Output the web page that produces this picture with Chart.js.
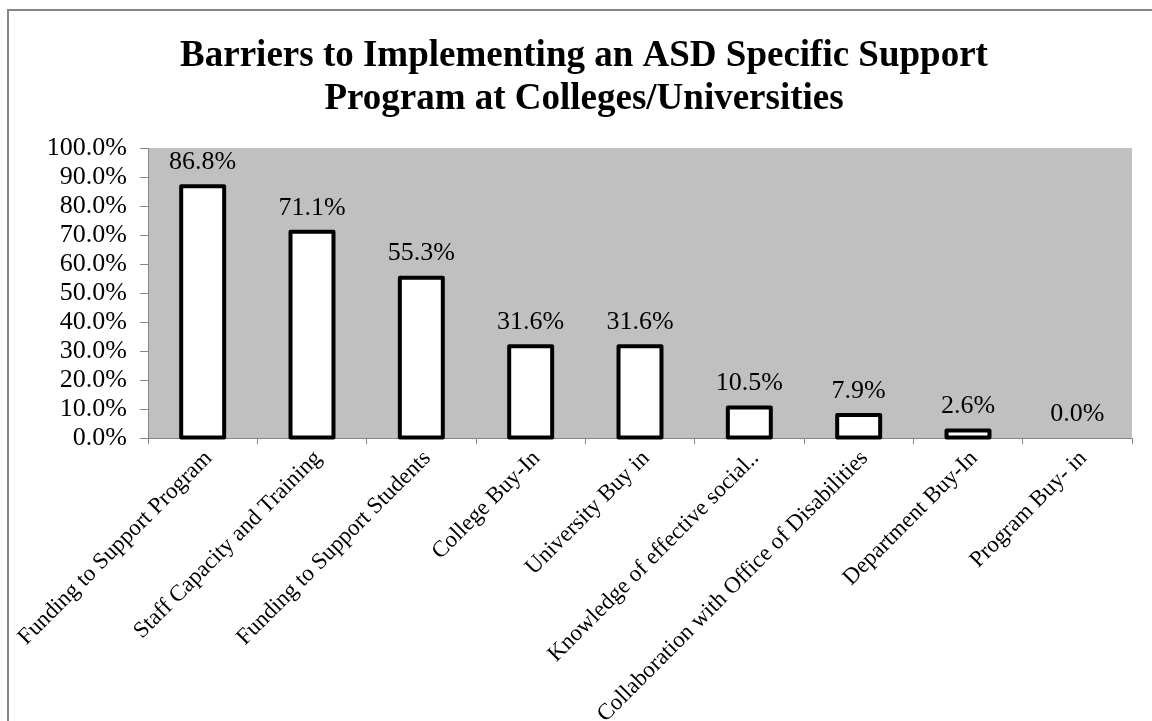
<!DOCTYPE html>
<html lang="en">
<head>
    <meta charset="UTF-8">
    <title>Barriers to Implementing an ASD Specific Support Program</title>
    <script src="https://cdn.jsdelivr.net/npm/chart.js@4.4.1/dist/chart.umd.min.js"></script>
    <style>
        html, body { margin: 0; padding: 0; background: #fff; overflow: hidden; }
        .wrap { position: relative; width: 1152px; height: 721px; }
        .frame {
            position: absolute; left: 7px; top: 9px; width: 1200px; height: 800px;
            border-left: 2px solid #868686; border-top: 2px solid #868686;
            pointer-events: none;
        }
    </style>
</head>
<body>
<div class="wrap">
    <canvas id="barChart" width="1152" height="721"></canvas>
    <div class="frame"></div>
</div>

<script>
    // chart data
    const titleLines = ['Barriers to Implementing an ASD Specific Support', 'Program at Colleges/Universities'];
    const categories = [
        'Funding to Support Program',
        'Staff Capacity and Training',
        'Funding to Support Students',
        'College Buy-In',
        'University Buy in',
        'Knowledge of effective social..',
        'Collaboration with Office of Disabilities',
        'Department Buy-In',
        'Program Buy- in'
    ];
    const percents = [86.8, 71.1, 55.3, 31.6, 31.6, 10.5, 7.9, 2.6, 0.0];
    const yMin = 0;
    const yMax = 100;
    const yStep = 10;

    const serif = '"Liberation Serif", "Times New Roman", serif';

    // grey plot area + custom title
    const plotBackground = {
        id: 'plotBackground',
        beforeDraw(chart) {
            const { ctx, chartArea: a } = chart;
            ctx.save();
            ctx.fillStyle = '#c0c0c0';
            ctx.fillRect(a.left, a.top, a.right - a.left, a.bottom - a.top);
            ctx.fillStyle = '#000';
            ctx.font = 'bold 37px ' + serif;
            ctx.textAlign = 'center';
            ctx.textBaseline = 'alphabetic';
            titleLines.forEach((t, i) => ctx.fillText(t, 584, 66 + i * 43));
            ctx.restore();
        }
    };

    // thick outline on bars (centred on the edge like Excel) + value labels
    const barOutline = {
        id: 'barOutline',
        afterDatasetsDraw(chart) {
            const { ctx } = chart;
            const meta = chart.getDatasetMeta(0);
            ctx.save();
            meta.data.forEach((bar, i) => {
                const p = bar.getProps(['x', 'y', 'base', 'width'], true);
                if (percents[i] > 0) {
                    ctx.lineWidth = 4;
                    ctx.lineJoin = 'round';
                    ctx.strokeStyle = '#000';
                    ctx.strokeRect(p.x - p.width / 2, p.y, p.width, p.base - p.y);
                }
                ctx.fillStyle = '#000';
                ctx.font = '26px ' + serif;
                ctx.textAlign = 'center';
                ctx.textBaseline = 'middle';
                ctx.fillText(percents[i].toFixed(1) + '%', p.x, p.y - 24);
            });
            ctx.restore();
        }
    };

    const ctx = document.getElementById('barChart').getContext('2d');
    const chart = new Chart(ctx, {
        type: 'bar',
        data: {
            labels: categories,
            datasets: [{
                data: percents,
                backgroundColor: '#ffffff',
                borderWidth: 0,
                categoryPercentage: 1.0,
                barPercentage: 0.393
            }]
        },
        options: {
            responsive: false,
            animation: false,
            devicePixelRatio: 1,
            layout: { padding: { top: 148, left: 0, right: 20, bottom: 0 } },
            plugins: {
                legend: { display: false },
                title: { display: false },
                tooltip: { enabled: false }
            },
            scales: {
                x: {
                    offset: true,
                    afterFit(scale) { scale.height = 283; },
                    grid: {
                        offset: true,
                        drawOnChartArea: false,
                        tickLength: 6,
                        color: '#868686'
                    },
                    border: { color: '#868686', width: 1 },
                    ticks: {
                        color: '#000',
                        font: { family: serif, size: 23 },
                        minRotation: 45,
                        maxRotation: 45,
                        autoSkip: false,
                        labelOffset: 6,
                        padding: 1
                    }
                },
                y: {
                    min: yMin,
                    max: yMax,
                    afterFit(scale) { scale.width = 148; },
                    grid: {
                        drawOnChartArea: false,
                        tickLength: 8,
                        color: '#868686'
                    },
                    border: { color: '#868686', width: 1 },
                    ticks: {
                        stepSize: yStep,
                        autoSkip: false,
                        color: '#000',
                        padding: 13,
                        font: { family: serif, size: 26 },
                        callback: v => v.toFixed(1) + '%'
                    }
                }
            }
        },
        plugins: [plotBackground, barOutline]
    });
</script>
</body>
</html>
